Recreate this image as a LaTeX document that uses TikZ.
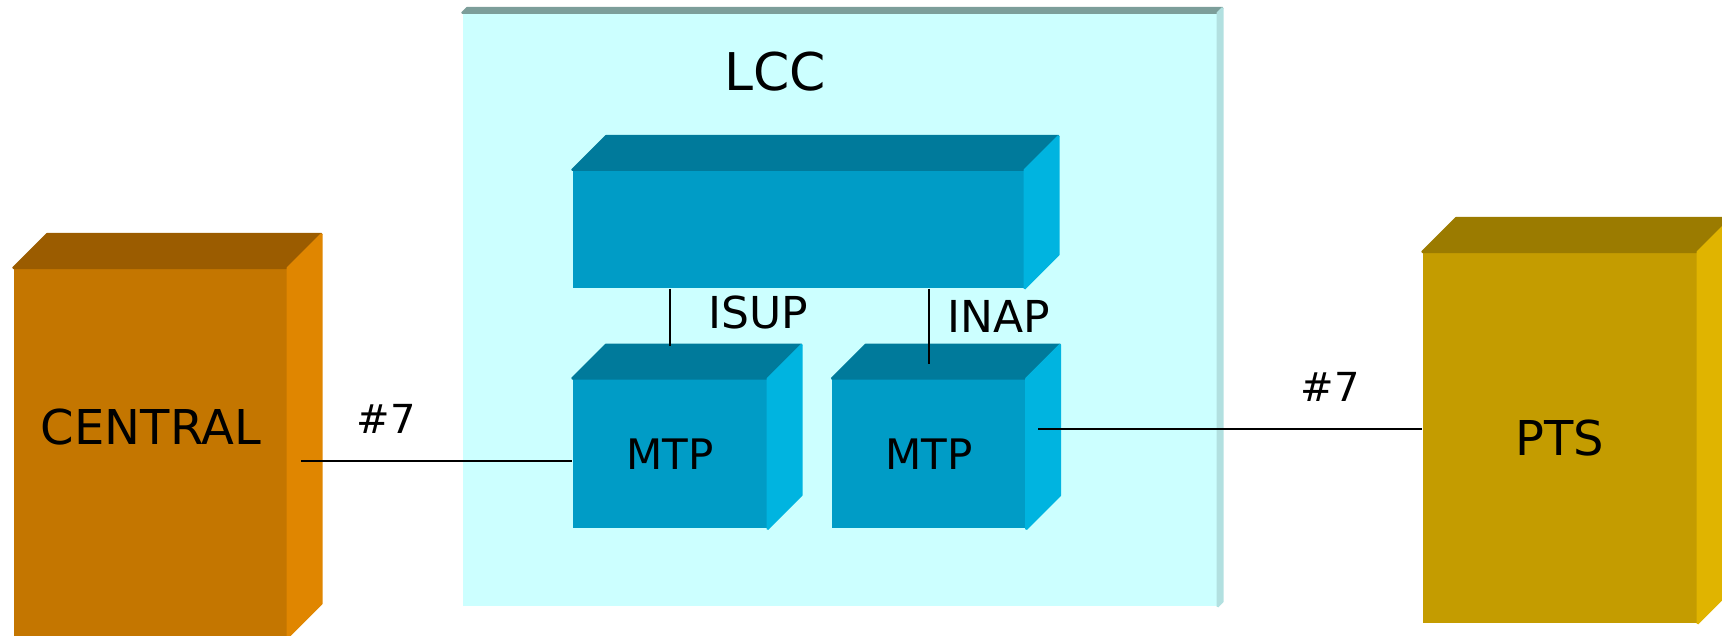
\documentclass[tikz,border=0pt]{standalone}
\usepackage{fontspec}
\setmainfont{DejaVu Sans}
\usetikzlibrary{calc,positioning}

\definecolor{lccfront}{HTML}{CCFFFF}
\definecolor{lcctop}{HTML}{7C9E9A}
\definecolor{lccside}{HTML}{B2E0E0}
\definecolor{centralfront}{HTML}{C47600}
\definecolor{centraltop}{HTML}{9B5C00}
\definecolor{centralside}{HTML}{E08600}
\definecolor{ptsfront}{HTML}{C49C00}
\definecolor{ptstop}{HTML}{9B7B00}
\definecolor{ptsside}{HTML}{E0B400}
\definecolor{blufront}{HTML}{009CC6}
\definecolor{blutop}{HTML}{007A9B}
\definecolor{bluside}{HTML}{00B4E0}

\begin{document}
\begin{tikzpicture}[x=0.5pt,y=-0.5pt,line width=0.8pt,
  front/.style={rectangle,inner sep=0pt,anchor=north west},
  big label/.style={font=\fontsize{24}{28}\selectfont},
  mid label/.style={font=\fontsize{21}{25}\selectfont},
  small label/.style={font=\fontsize{22}{26}\selectfont},
  link label/.style={font=\fontsize{20}{24}\selectfont}]

  \useasboundingbox (0,0) rectangle (1722,636);

  \node[front,fill=lccfront,minimum width=377pt,minimum height=296pt] (lcc) at (462,13) {};
  \node[front,fill=centralfront,minimum width=136.5pt,minimum height=184pt] (central) at (13,268) {};
  \node[front,fill=ptsfront,big label,minimum width=137pt,minimum height=185pt] (pts) at (1422,252) {PTS};
  \node[front,fill=blufront,minimum width=225.5pt,minimum height=58.5pt] (upper) at (572,170) {};
  \node[front,fill=blufront,mid label,minimum width=97pt,minimum height=74.5pt] (mtpA)
    [below right=45pt and 0pt of upper.south west] {MTP};
  \node[front,fill=blufront,mid label,minimum width=96.5pt,minimum height=74.5pt] (mtpB)
    [right=32pt of mtpA] {MTP};

  % top and side faces
  \foreach \n/\t/\s/\d in {lcc/lcctop/lccside/5, central/centraltop/centralside/34,
      pts/ptstop/ptsside/34, upper/blutop/bluside/34, mtpA/blutop/bluside/34,
      mtpB/blutop/bluside/34} {
    \filldraw[\t,line width=1pt,line join=bevel] (\n.north west) -- ++(\d,-\d) -- ($(\n.north east)+(\d,-\d)$) -- (\n.north east) -- cycle;
    \filldraw[\s,line width=1pt,line join=bevel] (\n.north east) -- ++(\d,-\d) -- ($(\n.south east)+(\d,-\d)$) -- (\n.south east) -- cycle;
  }

  \node[font=\fontsize{26}{30}\selectfont] (lcctext) at (775,72) {LCC};
  \node[big label] (centraltext) at (151,427) {CENTRAL};
  \node[small label] (isup) at (758,312) {ISUP};
  \node[small label] (inap) at (999,316) {INAP};
  \node[link label] (linkA) at (386,419) {\#7};
  \node[link label] (linkB) at (1330,387) {\#7};

  \coordinate (portA) at (301,461);
  \coordinate (portB) at (1038,429);
  \draw (portA) -- (portA -| mtpA.west);
  \draw (portB) -- (portB -| pts.west);
  \draw (upper.south -| mtpA.north) -- ($(mtpA.north)+(0,-33)$);
  \draw (upper.south -| mtpB.north) -- ($(mtpB.north)+(0,-15)$);
\end{tikzpicture}
\end{document}
